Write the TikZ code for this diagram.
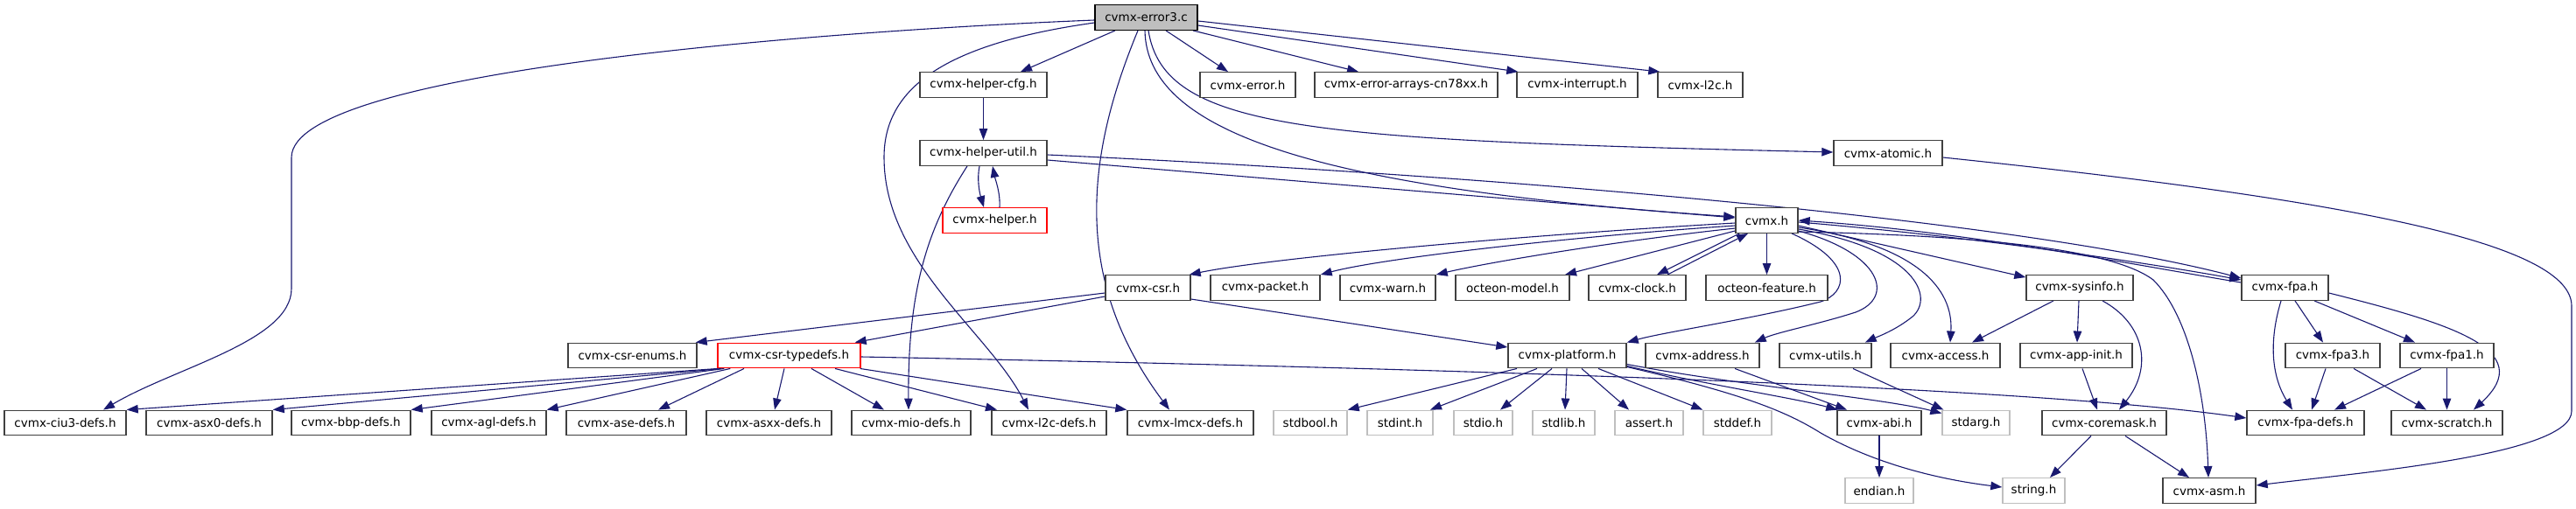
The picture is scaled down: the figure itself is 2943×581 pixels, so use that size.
\documentclass[tikz,border=0pt]{standalone}
\usepackage{fontspec}
\setmainfont{DejaVu Sans}
\usetikzlibrary{arrows.meta}
\definecolor{edgecol}{HTML}{191970}
\definecolor{bordcol}{HTML}{404040}
\definecolor{syscol}{HTML}{BFBFBF}
\definecolor{topfill}{HTML}{BFBFBF}
\pgfdeclarelayer{background}
\pgfsetlayers{background,main}
\begin{document}
\begin{tikzpicture}[x=1pt,y=-1pt,
 box/.style={draw=bordcol,line width=1.4pt,fill=white,minimum height=28.5pt,inner sep=0pt,font=\fontsize{13.5}{16}\selectfont},
 sysbox/.style={box,draw=syscol},
 redbox/.style={box,draw=red},
 topbox/.style={box,draw=black,fill=topfill},
 wd/.style={minimum width=#1pt},
 dep/.style={draw=edgecol,line width=1.1pt,-{Triangle[length=13pt,width=9.5pt]}}]
\useasboundingbox (0,0) rectangle (2943,581);
% rank 0
\node[topbox,wd=117] (e3) at (1309.5,20) {cvmx-error3.c};
% rank 1
\node[box,wd=145] (cfg) at (1123.5,97) {cvmx-helper-cfg.h};
\node[box,wd=109] (err) at (1425.5,97) {cvmx-error.h};
\node[box,wd=209] (arr) at (1606.5,97) {cvmx-error-arrays-cn78xx.h};
\node[box,wd=138] (intr) at (1802,97) {cvmx-interrupt.h};
\node[box,wd=97] (l2c) at (1942.5,97) {cvmx-l2c.h};
% rank 2
\node[box,wd=145] (util) at (1123.5,175) {cvmx-helper-util.h};
\node[box,wd=124] (atomic) at (2157,175) {cvmx-atomic.h};
% rank 3
\node[redbox,wd=119] (helper) at (1136.5,252) {cvmx-helper.h};
\node[box,wd=71] (cvmx) at (2018.5,252) {cvmx.h};
% rank 4
\node[box,wd=97] (csr) at (1311.5,329) {cvmx-csr.h};
\node[box,wd=125] (packet) at (1445.5,329) {cvmx-packet.h};
\node[box,wd=109] (warn) at (1585.5,329) {cvmx-warn.h};
\node[box,wd=130] (model) at (1728,329) {octeon-model.h};
\node[box,wd=111] (clock) at (1870.5,329) {cvmx-clock.h};
\node[box,wd=139] (feature) at (2018.5,329) {octeon-feature.h};
\node[box,wd=122] (sysinfo) at (2376,329) {cvmx-sysinfo.h};
\node[box,wd=99] (fpa) at (2610.5,329) {cvmx-fpa.h};
% rank 5
\node[box,wd=147] (enums) at (722.5,406.5) {cvmx-csr-enums.h};
\node[redbox,wd=163] (typedefs) at (901.5,406.5) {cvmx-csr-typedefs.h};
\node[box,wd=135] (platform) at (1790.5,406.5) {cvmx-platform.h};
\node[box,wd=130] (address) at (1945,406.5) {cvmx-address.h};
\node[box,wd=105] (utils) at (2085.5,406.5) {cvmx-utils.h};
\node[box,wd=125] (access) at (2222.5,406.5) {cvmx-access.h};
\node[box,wd=128] (appinit) at (2372,406.5) {cvmx-app-init.h};
\node[box,wd=108] (fpa3) at (2665,406.5) {cvmx-fpa3.h};
\node[box,wd=107] (fpa1) at (2795.5,406.5) {cvmx-fpa1.h};
% rank 6
\node[box,wd=139] (ciu3) at (74.5,483.5) {cvmx-ciu3-defs.h};
\node[box,wd=144] (asx0) at (239,483.5) {cvmx-asx0-defs.h};
\node[box,wd=136] (bbp) at (401,483.5) {cvmx-bbp-defs.h};
\node[box,wd=131] (agl) at (558.5,483.5) {cvmx-agl-defs.h};
\node[box,wd=137] (ase) at (715.5,483.5) {cvmx-ase-defs.h};
\node[box,wd=143] (asxx) at (878.5,483.5) {cvmx-asxx-defs.h};
\node[box,wd=136] (mio) at (1041,483.5) {cvmx-mio-defs.h};
\node[box,wd=131] (l2cd) at (1198.5,483.5) {cvmx-l2c-defs.h};
\node[box,wd=144] (lmcx) at (1360,483.5) {cvmx-lmcx-defs.h};
\node[sysbox,wd=84] (stdbool) at (1497,483.5) {stdbool.h};
\node[sysbox,wd=75] (stdint) at (1599.5,483.5) {stdint.h};
\node[sysbox,wd=67] (stdio) at (1694.5,483.5) {stdio.h};
\node[sysbox,wd=71] (stdlib) at (1786.5,483.5) {stdlib.h};
\node[sysbox,wd=78] (assert) at (1884,483.5) {assert.h};
\node[sysbox,wd=78] (stddef) at (1985,483.5) {stddef.h};
\node[box,wd=96] (abi) at (2147,483.5) {cvmx-abi.h};
\node[sysbox,wd=77] (stdarg) at (2257.5,483.5) {stdarg.h};
\node[box,wd=142] (coremask) at (2404,483.5) {cvmx-coremask.h};
\node[box,wd=134] (fpadefs) at (2634,483.5) {cvmx-fpa-defs.h};
\node[box,wd=127] (scratch) at (2795.5,483.5) {cvmx-scratch.h};
% rank 7
\node[sysbox,wd=78] (endian) at (2147,561) {endian.h};
\node[sysbox,wd=71] (string) at (2323.5,561) {string.h};
\node[box,wd=106] (asm) at (2524,561) {cvmx-asm.h};

\begin{pgfonlayer}{background}
% error3.c
\draw[dep] ([yshift=-3pt]e3.west) .. controls (950,35) and (333,80) .. (333,180) -- (333,330) .. controls (333,390) and (200,420) .. ([xshift=43.5pt]ciu3.north);
\draw[dep] ([xshift=-35.5pt]e3.south) -- ([xshift=42.5pt]cfg.north);
\draw[dep] ([yshift=-6pt]e3.west) .. controls (1080,50) and (1010,100) .. (1010,180) .. controls (1010,300) and (1130,380) .. ([xshift=-23.5pt]l2cd.north);
\draw[dep] ([xshift=-9.5pt]e3.south) .. controls (1240,180) and (1225,320) .. ([xshift=-24pt]lmcx.north);
\draw[dep] ([xshift=-1.5pt]e3.south) .. controls (1310,150) and (1500,215) .. ([yshift=4pt]cvmx.west);
\draw[dep] ([xshift=2.5pt]e3.south) .. controls (1330,150) and (1500,160) .. ([yshift=1pt]atomic.west);
\draw[dep] ([xshift=22.5pt]e3.south) -- ([xshift=-22.5pt]err.north);
\draw[dep] ([xshift=53.5pt]e3.south) -- ([xshift=-54.5pt]arr.north);
\draw[dep] ([yshift=-9pt]e3.east) -- ([xshift=2pt]intr.north west);
\draw[dep] ([yshift=-4pt]e3.east) -- ([xshift=3pt]l2c.north west);
% helper
\draw[dep] (cfg.south) -- (util.north);
\draw[dep] ([xshift=-4.5pt]util.south) .. controls (1116,205) and (1119,220) .. ([xshift=-12.5pt]helper.north);
\draw[dep] ([xshift=5.5pt]helper.north) .. controls (1143,220) and (1137,205) .. ([xshift=10.5pt]util.south);
\draw[dep] ([xshift=-18.5pt]util.south) .. controls (1060,260) and (1037,330) .. ([xshift=-3pt]mio.north);
\draw[dep] ([yshift=-8pt]util.east) -- ([yshift=3pt]cvmx.west);
\draw[dep] ([yshift=-2pt]util.east) .. controls (1700,200) and (2300,250) .. ([yshift=11pt]fpa.west);
\draw[dep] ([yshift=-5pt]atomic.east) .. controls (2700,230) and (2938,280) .. (2938,350) -- (2938,470) .. controls (2938,520) and (2700,540) .. ([yshift=6pt]asm.east);
% cvmx.h
\draw[dep] ([yshift=-3pt]cvmx.west) .. controls (1750,268) and (1450,295) .. ([xshift=-2pt]csr.north east);
\draw[dep] ([yshift=-6pt]cvmx.west) .. controls (1800,270) and (1580,295) .. (packet.north east);
\draw[dep] ([yshift=-9pt]cvmx.west) .. controls (1850,275) and (1700,300) .. (warn.north east);
\draw[dep] ([yshift=-12pt]cvmx.west) -- ([xshift=60pt]model.north);
\draw[dep] ([xshift=5pt]cvmx.south west) -- ([xshift=22.5pt]clock.north);
\draw[dep] ([xshift=34.5pt]clock.north) -- ([xshift=-21.5pt]cvmx.south);
\draw[dep] (cvmx.south) -- (feature.north);
\draw[dep] ([yshift=-6pt]cvmx.east) -- ([yshift=-3pt]sysinfo.north west);
\draw[dep] ([xshift=28.5pt]cvmx.south) .. controls (2120,300) and (2110,335) .. (2080,345) .. controls (2000,365) and (1900,380) .. (platform.north east);
\draw[dep] ([yshift=-12pt]cvmx.east) .. controls (2150,290) and (2165,340) .. (2120,357) .. controls (2080,370) and (2030,380) .. ([xshift=-6pt]address.north east);
\draw[dep] ([yshift=-10pt]cvmx.east) .. controls (2190,285) and (2210,340) .. (2185,362) .. controls (2165,378) and (2145,385) .. ([xshift=-8pt]utils.north east);
\draw[dep] ([yshift=-8pt]cvmx.east) .. controls (2190,280) and (2232,330) .. ([xshift=5.5pt]access.north);
\draw[dep] ([yshift=-2pt]cvmx.east) .. controls (2250,270) and (2450,300) .. ([yshift=9pt]fpa.west);
\draw[dep] ([yshift=6pt]fpa.west) .. controls (2450,305) and (2250,265) .. (cvmx.east);
\draw[dep] ([yshift=-13pt]cvmx.east) .. controls (2300,270) and (2420,290) .. (2460,320) .. controls (2500,360) and (2520,450) .. ([xshift=-1pt]asm.north);
% csr
\draw[dep] ([yshift=-6pt]csr.west) -- ([xshift=-2pt]enums.north east);
\draw[dep] ([yshift=-10pt]csr.west) -- ([xshift=-7pt]typedefs.north east);
\draw[dep] ([yshift=-13pt]csr.east) -- ([yshift=9.5pt]platform.west);
% typedefs
\draw[dep] ([xshift=1pt]typedefs.south west) -- (ciu3.north east);
\draw[dep] ([xshift=5pt]typedefs.south west) -- (asx0.north east);
\draw[dep] ([xshift=8pt]typedefs.south west) -- (bbp.north east);
\draw[dep] ([xshift=15pt]typedefs.south west) -- (agl.north east);
\draw[dep] ([xshift=-51.5pt]typedefs.south) -- ([xshift=36.5pt]ase.north);
\draw[dep] ([xshift=-5.5pt]typedefs.south) -- ([xshift=6.5pt]asxx.north);
\draw[dep] ([xshift=25.5pt]typedefs.south) -- ([xshift=-31pt]mio.north);
\draw[dep] ([xshift=52.5pt]typedefs.south) -- ([xshift=-59.5pt]l2cd.north);
\draw[dep] ([xshift=-1pt]typedefs.south east) -- (lmcx.north west);
\draw[dep] ([yshift=-1.5pt]typedefs.east) .. controls (1600,420) and (2300,440) .. ([yshift=5.5pt]fpadefs.west);
% platform
\draw[dep] ([xshift=-57.5pt]platform.south) -- (stdbool.north east);
\draw[dep] ([xshift=-34.5pt]platform.south) -- ([xshift=34.5pt]stdint.north);
\draw[dep] ([xshift=-17.5pt]platform.south) -- ([xshift=19.5pt]stdio.north);
\draw[dep] ([xshift=-0.5pt]platform.south) -- ([xshift=1.5pt]stdlib.north);
\draw[dep] ([xshift=16.5pt]platform.south) -- ([xshift=-23pt]assert.north);
\draw[dep] ([xshift=35.5pt]platform.south) -- (stddef.north west);
\draw[dep] ([yshift=-12pt]platform.east) .. controls (1950,440) and (2050,455) .. ([xshift=1pt]abi.north west);
\draw[dep] ([yshift=-10pt]platform.east) .. controls (1980,440) and (2150,455) .. ([yshift=-4pt]stdarg.north west);
\draw[dep] ([yshift=-13pt]platform.east) .. controls (1990,450) and (2040,470) .. (2080,495) .. controls (2150,535) and (2230,550) .. ([yshift=4pt]string.west);
% others
\draw[dep] ([xshift=37pt]address.south) -- ([xshift=-37pt]abi.north);
\draw[dep] ([xshift=31.5pt]utils.south) -- ([xshift=2pt]stdarg.north west);
\draw[dep] ([xshift=-30pt]sysinfo.south) -- ([xshift=30.5pt]access.north);
\draw[dep] ([xshift=-1pt]sysinfo.south) -- ([xshift=1pt]appinit.north);
\draw[dep] ([xshift=26pt]sysinfo.south) .. controls (2450,370) and (2460,420) .. ([xshift=17pt]coremask.north);
\draw[dep] ([xshift=7pt]appinit.south) -- ([xshift=-8pt]coremask.north);
\draw[dep] ([xshift=-15pt]coremask.south) -- ([xshift=18.5pt]string.north);
\draw[dep] ([xshift=24pt]coremask.south) -- ([xshift=-23pt]asm.north);
\draw[dep] (abi.south) -- (endian.north);
% fpa
\draw[dep] ([xshift=-4.5pt]fpa.south) .. controls (2592,390) and (2595,430) .. ([xshift=-15pt]fpadefs.north);
\draw[dep] ([xshift=11.5pt]fpa.south) -- ([xshift=-11pt]fpa3.north);
\draw[dep] ([xshift=33.5pt]fpa.south) -- ([xshift=-36.5pt]fpa1.north);
\draw[dep] ([yshift=-6pt]fpa.east) .. controls (2800,370) and (2900,400) .. ([xshift=30.5pt]scratch.north);
\draw[dep] ([xshift=-8pt]fpa3.south) -- ([xshift=7pt]fpadefs.north);
\draw[dep] ([xshift=24pt]fpa3.south) -- ([xshift=-23.5pt]scratch.north);
\draw[dep] ([xshift=-29.5pt]fpa1.south) -- ([xshift=33pt]fpadefs.north);
\draw[dep] (fpa1.south) -- (scratch.north);
\end{pgfonlayer}
\end{tikzpicture}
\end{document}
